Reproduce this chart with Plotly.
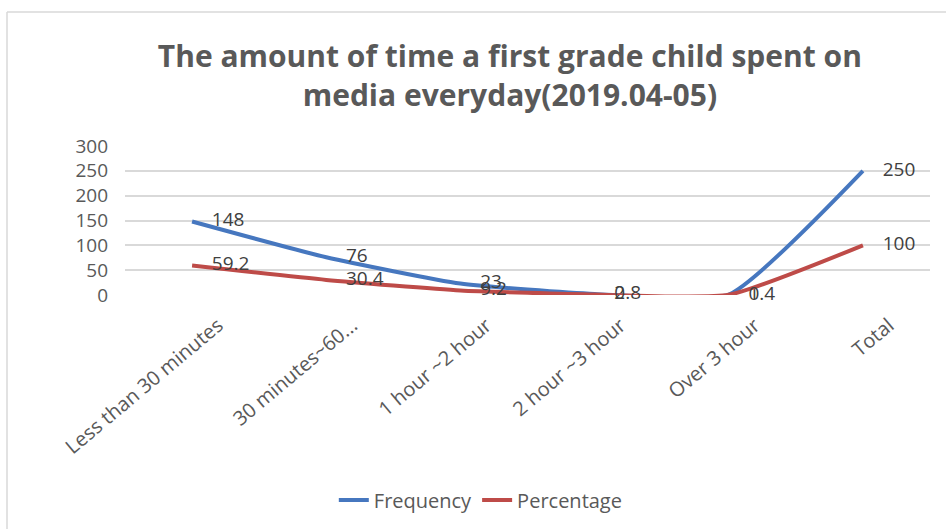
import plotly.graph_objects as go

categories = ["Less than 30 minutes", "30 minutes~60...", "1 hour ~2 hour", "2 hour ~3 hour", "Over 3 hour", "Total"]
frequency = [148, 76, 23, 2, 1, 250]
percentage = [59.2, 30.4, 9.2, 0.8, 0.4, 100]
y_ticks = [0, 50, 100, 150, 200, 250, 300]

BLUE = "#4677BF"
RED = "#BE4B48"
FONT = "Open Sans"
PAD = "\u00a0\u00a0\u00a0\u00a0"

fig = go.Figure()
fig.add_trace(go.Scatter(
    x=categories, y=frequency, name="Frequency", mode="lines+text", cliponaxis=False,
    line=dict(color=BLUE, width=4, shape="spline", smoothing=0.5),
    text=[PAD + str(v) for v in frequency], textposition="middle right",
    textfont=dict(family=FONT, size=19, color="#404040"),
))
fig.add_trace(go.Scatter(
    x=categories, y=percentage, name="Percentage", mode="lines+text", cliponaxis=False,
    line=dict(color=RED, width=4, shape="spline", smoothing=0.5),
    text=[PAD + str(v) for v in percentage], textposition="middle right",
    textfont=dict(family=FONT, size=19, color="#404040"),
))

W, H = 946, 529
fig.update_layout(
    width=W, height=H,
    margin=dict(l=125, r=16, t=146, b=233),
    paper_bgcolor="white", plot_bgcolor="white",
    title=dict(
        text="<b>The amount of time a first grade child spent on<br>media everyday(2019.04-05)</b>",
        x=0.539, xanchor="center", y=0.874, yanchor="top",
        font=dict(family=FONT, size=30, color="#595959"),
    ),
    font=dict(family=FONT, color="#595959"),
    legend=dict(
        orientation="h", x=0.442, xanchor="center", y=-1.36, yanchor="middle",
        font=dict(family=FONT, size=20, color="#595959"),
    ),
    xaxis=dict(
        type="category", range=[-0.5, 5.5], tickangle=-40, showgrid=False, zeroline=False,
        showline=False, ticks="", tickfont=dict(family=FONT, size=20, color="#595959"),
        ticklabelshift=26, ticklabelstandoff=14,
    ),
    yaxis=dict(
        range=[0, 300], tickvals=y_ticks, showgrid=True, gridcolor="#D9D9D9", gridwidth=1.5,
        zeroline=False, ticks="", ticklabelstandoff=16,
        tickfont=dict(family=FONT, size=19, color="#595959"),
    ),
    showlegend=True,
)

# chart area border (top and left edges visible)
fig.add_shape(type="line", xref="paper", yref="paper",
              x0=-118 / (W - 141), x1=1.2, y0=1 + (146 - 11) / 150, y1=1 + (146 - 11) / 150,
              line=dict(color="#D9D9D9", width=1.5))
fig.add_shape(type="line", xref="paper", yref="paper",
              x0=-118 / (W - 141), x1=-118 / (W - 141), y0=-2, y1=1 + (146 - 11) / 150,
              line=dict(color="#D9D9D9", width=1.5))

fig.write_html("out.html")
